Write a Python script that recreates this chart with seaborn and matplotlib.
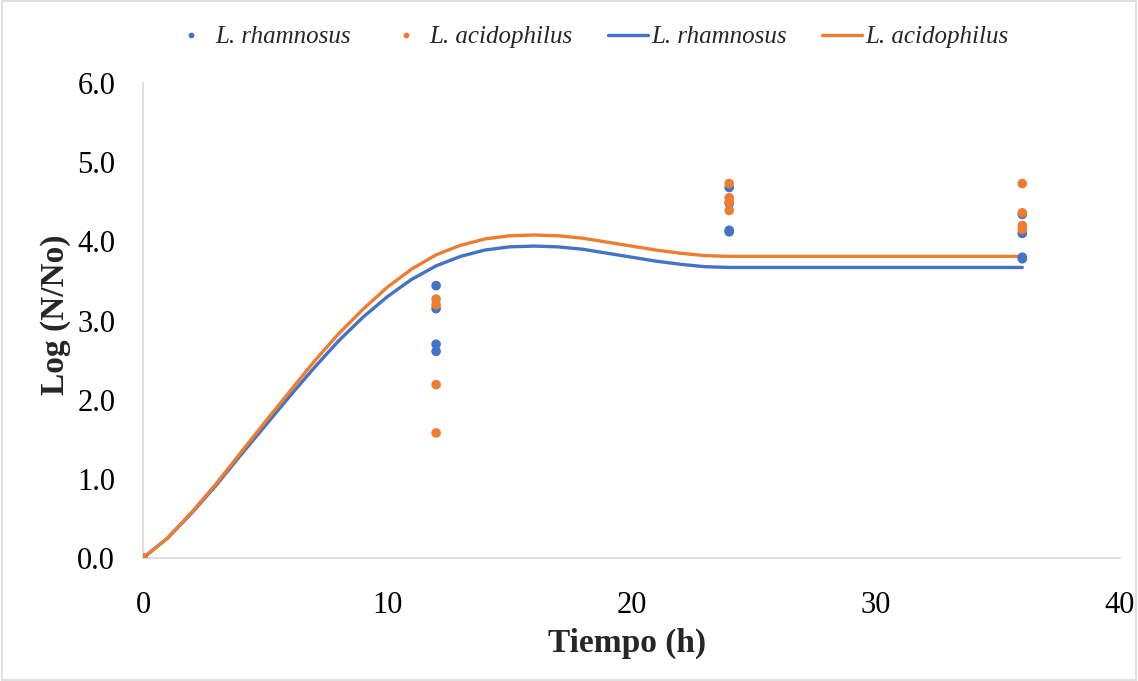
import numpy as np
import pandas as pd
import matplotlib
matplotlib.use("Agg")
import matplotlib.pyplot as plt
from matplotlib.patches import Rectangle
import seaborn as sns

# ---- data ----
strains = ["L. rhamnosus", "L. acidophilus"]
obs_time = [0, 12, 12, 12, 12, 24, 24, 24, 24, 36, 36, 36, 36]
obs_rhamnosus = [0.0, 3.44, 3.15, 2.70, 2.61, 4.68, 4.48, 4.14, 4.12, 4.34, 4.10, 3.80, 3.78]
obs_acidophilus = [0.0, 3.27, 3.20, 2.19, 1.58, 4.73, 4.55, 4.50, 4.39, 4.73, 4.36, 4.20, 4.15]

fit_time = list(range(0, 37))
fit_rhamnosus = [0.00, 0.25, 0.57, 0.92, 1.30, 1.67, 2.04, 2.40, 2.74, 3.04, 3.30,
                 3.52, 3.69, 3.81, 3.89, 3.93, 3.94, 3.93, 3.90, 3.85, 3.80,
                 3.75, 3.71, 3.68, 3.67, 3.67, 3.67, 3.67, 3.67, 3.67, 3.67,
                 3.67, 3.67, 3.67, 3.67, 3.67, 3.67]
fit_acidophilus = [0.00, 0.25, 0.58, 0.94, 1.33, 1.72, 2.10, 2.48, 2.83, 3.14, 3.42,
                   3.65, 3.83, 3.95, 4.03, 4.07, 4.08, 4.07, 4.04, 3.99, 3.94,
                   3.89, 3.85, 3.82, 3.81, 3.81, 3.81, 3.81, 3.81, 3.81, 3.81,
                   3.81, 3.81, 3.81, 3.81, 3.81, 3.81]

x_ticks = [0, 10, 20, 30, 40]
y_ticks = [0, 1, 2, 3, 4, 5, 6]

colors = {"L. rhamnosus": "#4472C4", "L. acidophilus": "#ED7D31"}

obs = pd.DataFrame({
    "t": obs_time * 2,
    "v": obs_rhamnosus + obs_acidophilus,
    "strain": [strains[0]] * len(obs_time) + [strains[1]] * len(obs_time),
})
fit = pd.DataFrame({
    "t": fit_time * 2,
    "v": fit_rhamnosus + fit_acidophilus,
    "strain": [strains[0]] * len(fit_time) + [strains[1]] * len(fit_time),
})

sns.set_theme(style="white")
plt.rcParams["font.family"] = ["Liberation Serif", "DejaVu Serif"]

fig = plt.figure(figsize=(11.38, 6.81), dpi=100)
ax = fig.add_axes([143 / 1138, 1 - 558 / 681, (1120 - 143) / 1138, (558 - 83) / 681])

sns.scatterplot(data=obs, x="t", y="v", hue="strain", palette=colors,
                s=48, linewidth=0, ax=ax, zorder=3, legend=True)
sns.lineplot(data=fit, x="t", y="v", hue="strain", palette=colors,
             linewidth=2.4, ax=ax, zorder=2, legend=True)

ax.set_xlim(0, 40)
ax.set_ylim(0, 6)
ax.set_xticks(x_ticks)
ax.set_yticks(y_ticks)
ax.set_yticklabels([f"{v:.1f}" for v in y_ticks])
ax.tick_params(axis="x", labelsize=22, pad=24, length=0, colors="#000000")
ax.tick_params(axis="y", labelsize=22, pad=20, length=0, colors="#000000")

for s in ["top", "right"]:
    ax.spines[s].set_visible(False)
for s in ["left", "bottom"]:
    ax.spines[s].set_color("#D9D9D9")
    ax.spines[s].set_linewidth(1.2)
ax.grid(False)

ax.set_xlabel("Tiempo (h)", fontsize=24, fontweight="bold")
ax.set_ylabel("Log (N/No)", fontsize=24, fontweight="bold")
ax.xaxis.set_label_coords(0.495, -0.179)
ax.xaxis.label.set_va("center")
ax.yaxis.set_label_coords(-0.090, 0.512)
ax.yaxis.label.set_va("center")

handles, labels = ax.get_legend_handles_labels()
ax.legend(handles, labels, loc="center", bbox_to_anchor=(590 / 1138, 1 - 37 / 681),
          bbox_transform=fig.transFigure, ncol=4, frameon=False,
          prop={"family": "Liberation Serif", "style": "italic", "size": 18},
          handlelength=1.6, handletextpad=0.15, columnspacing=1.4, markerscale=0.6)

fig.add_artist(Rectangle((0.002, 0.002), 0.996, 0.996, transform=fig.transFigure,
                         fill=False, edgecolor="#D9D9D9", linewidth=1.2))

fig.savefig("out.png", dpi=100)
